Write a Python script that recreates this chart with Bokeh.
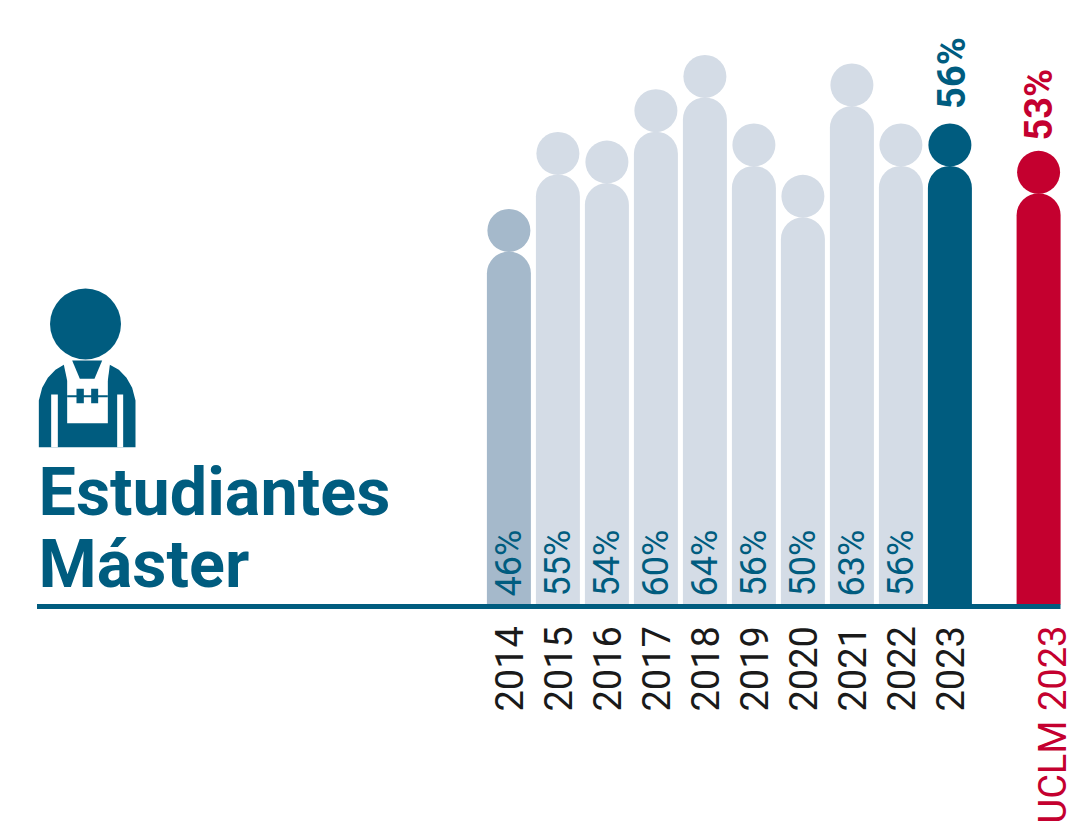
from math import pi
from bokeh.plotting import figure
from bokeh.models import ColumnDataSource
from bokeh.core.properties import value
from bokeh.embed import file_html
from bokeh.resources import INLINE

years = ["2014", "2015", "2016", "2017", "2018", "2019", "2020", "2021", "2022", "2023", "UCLM 2023"]
positions = [0, 1, 2, 3, 4, 5, 6, 7, 8, 9, 10.81]
values = [46, 55, 54, 60, 64, 56, 50, 63, 56, 56, 52.8]
BLUE = "#005c7f"
RED = "#c4002f"
PALE = "#d4dce6"
MID = "#a5b9cb"
bar_colors = [MID] + [PALE] * 8 + [BLUE, RED]
label_colors = ["#1a1a1a"] * 10 + [RED]
label_starts = [711] * 10 + [823]
label_shift = [0] * 10 + [14]
FONT = "Roboto"

W, H = 1076, 836
X0, XS = 508.4, 49.0      # pixel of position 0, pixels per position
Y0, YS = 604.0, 8.56      # pixel of the baseline, pixels per percentage point
BASE = 4.76               # value at the baseline (the scale does not start at zero)


def dx(px):
    return (px - X0) / XS


def dy(py):
    return BASE + (Y0 - py) / YS


p = figure(width=W, height=H, output_backend="svg", toolbar_location=None,
           x_range=(dx(0), dx(W)), y_range=(dy(H), dy(0)),
           min_border=0, outline_line_color=None, background_fill_color="white")
p.axis.visible = False
p.grid.visible = False

source = ColumnDataSource(dict(
    x=positions,
    v=values,
    head=[v + 21 / YS for v in values],
    bottom=[BASE] * len(values),
    color=bar_colors,
    year=years,
    ycolor=label_colors,
    yy=[dy(s) for s in label_starts],
    xo=label_shift,
))

p.vbar(x="x", top="v", bottom="bottom", width=44 / XS, source=source, color="color",
       line_color=None, border_radius=(22, 22, 0, 0))
p.scatter(x="x", y="head", size=43, marker="circle", source=source, color="color", line_color=None)

# Baseline
p.line([dx(36.5), dx(1060)], [dy(606), dy(606)], line_color=BLUE, line_width=5)

# Values inside the bars (all but the two highlighted ones)
inside = ColumnDataSource(dict(x=positions[:9], y=[dy(596)] * 9, t=[f"{round(v)}%" for v in values[:9]]))
p.text(x="x", y="y", text="t", source=inside, angle=pi / 2, text_align="left", text_baseline="middle",
       text_font=value(FONT), text_font_size="36px", text_color=BLUE)

# Values above the highlighted ones
above = ColumnDataSource(dict(x=positions[9:], y=[values[9] + 57 / YS, values[10] + 52.7 / YS],
                              t=[f"{round(v)}%" for v in values[9:]], c=[BLUE, RED], dxo=[2, 0]))
p.text(x="x", y="y", text="t", source=above, angle=pi / 2, text_align="left", text_baseline="middle",
       x_offset="dxo", text_font=value(FONT), text_font_style="bold", text_font_size="38px", text_color="c")

# Category labels
p.text(x="x", y="yy", text="year", source=source, angle=pi / 2, text_align="left", text_baseline="middle",
       x_offset="xo", text_font=value(FONT), text_font_size="38px", text_color="ycolor")

# Title
p.text(x=[dx(38), dx(38)], y=[dy(491), dy(563)], text=["Estudiantes", "Máster"], text_align="left",
       text_baseline="alphabetic", text_font=value(FONT), text_font_style="bold",
       text_font_size="66.5px", text_color=BLUE)


# Icon of a worker, drawn from pixel outlines of the zoomed reference
def iz(points):
    return [dx(a / 3 + 20) for a, _ in points], [dy(b / 3 + 280) for _, b in points]


body = [(130, 253), (105, 268), (82, 292), (65, 322), (55, 360), (55, 500), (345, 500), (345, 360),
        (335, 322), (318, 292), (295, 268), (268, 253), (225, 300), (175, 300)]
collar = [(155, 240), (245, 240), (222, 295), (178, 295)]
strap_l = [(130, 253), (155, 240), (178, 295), (178, 300), (140, 300)]
strap_r = [(268, 253), (245, 240), (222, 295), (222, 300), (262, 300)]
bib = [(140, 298), (262, 298), (262, 428), (140, 428)]
leg_l = [(92, 342), (112, 342), (112, 500), (92, 500)]
leg_r = [(290, 342), (308, 342), (308, 500), (290, 500)]
pocket_l = [(168, 325), (190, 325), (190, 368), (168, 368)]
pocket_r = [(212, 325), (233, 325), (233, 368), (212, 368)]
strip = [(140, 344), (262, 344), (262, 350), (140, 350)]

for shape, color in [(body, BLUE), (strap_l, "white"), (strap_r, "white"), (bib, "white"),
                     (leg_l, "white"), (leg_r, "white"), (collar, BLUE), (pocket_l, BLUE),
                     (pocket_r, BLUE), (strip, BLUE)]:
    xs, ys = iz(shape)
    p.patch(xs, ys, fill_color=color, line_color=None)
p.scatter(x=[dx(85)], y=[dy(323.5)], size=71, marker="circle", color=BLUE, line_color=None)

open("out.html", "w").write(file_html(p, INLINE))
